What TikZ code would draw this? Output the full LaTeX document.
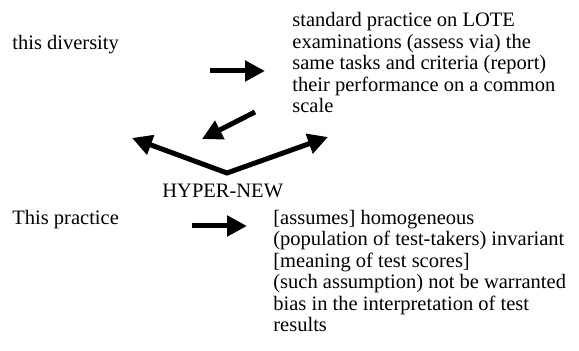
\documentclass[tikz,border=0pt]{standalone}
\usepackage{fontspec}
\setmainfont{Liberation Serif}
\usetikzlibrary{arrows.meta,positioning}
\tikzstyle{Label} = [inner sep=0pt, anchor=base west, font=\fontsize{10.25pt}{10.75pt}\selectfont]
\tikzstyle{Para}  = [Label, align=left]
\tikzstyle{Arrow} = [line width=2.5pt, line join=miter, -{Triangle[length=10pt,width=10pt]}]

\begin{document}
\begin{tikzpicture}[x=0.5pt, y=-0.5pt]
    \useasboundingbox (0,0) rectangle (579,351);
    \node[Label] (diversity) at (12,50)   {this diversity};
    \node[Para]  (standard)  at (292,113) {standard practice on LOTE\\examinations (assess via) the\\same tasks and criteria (report)\\their performance on a common\\scale};
    \node[Label] (hyper)     at (162,198) {HYPER-NEW};
    \node[Label] (practice)  at (12,225)  {This practice};
    \node[Para]  (assumes)   at (273,332) {[assumes] homogeneous\\(population of test-takers) invariant\\{}[meaning of test scores]\\(such assumption) not be warranted\\bias in the interpretation of test\\results};
    \coordinate (topfrom)  at (210,71);
    \coordinate (topto)    at (265,71);
    \coordinate (diagfrom) at (255,112);
    \coordinate (diagto)   at (202,139);
    \coordinate (vleft)    at (132,138);
    \coordinate (vbottom)  at (227,173);
    \coordinate (vright)   at (328,137);
    \coordinate (botfrom)  at (192,226);
    \coordinate (botto)    at (247,226);
    \draw[Arrow] (topfrom) -- (topto);
    \draw[Arrow] (diagfrom) -- (diagto);
    \draw[Arrow, {Triangle[length=10pt,width=10pt]}-{Triangle[length=10pt,width=10pt]}] (vleft) -- (vbottom) -- (vright);
    \draw[Arrow] (botfrom) -- (botto);
\end{tikzpicture}
\end{document}
